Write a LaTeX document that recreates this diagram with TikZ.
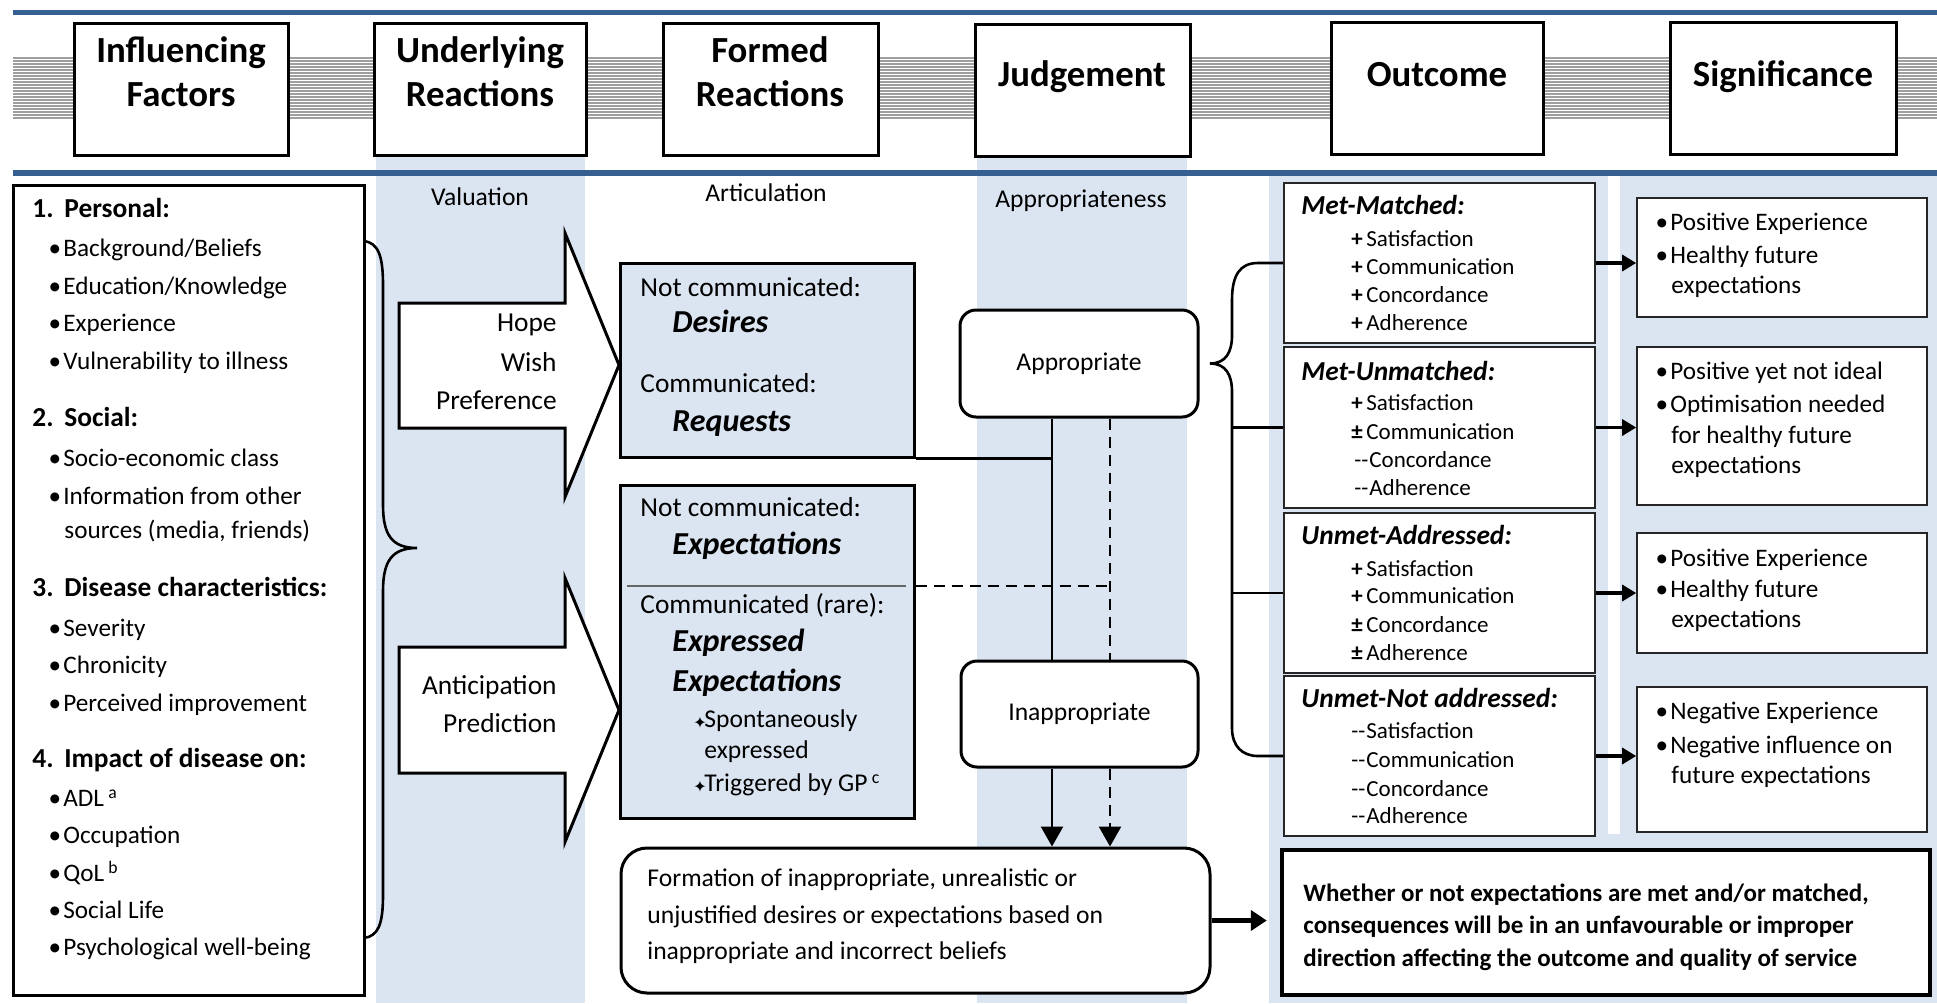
\documentclass[tikz,border=0pt]{standalone}
\usepackage{fontspec}
\setmainfont{Carlito}
\newfontfamily\dejavu{DejaVu Sans}
\usetikzlibrary{arrows.meta,calc}
\definecolor{band}{RGB}{219,229,241}
\definecolor{bline}{RGB}{54,96,146}
\newcommand\mybul{\makebox[8.5pt][c]{•}}
\newcommand\lnum[1]{\makebox[16pt][l]{#1}}
\newcommand\myitem[1]{\makebox[7.5pt][l]{#1}}
\newcommand\mystar{\makebox[5.5pt][l]{\raisebox{-0.5pt}{\dejavu\fontsize{8}{8}\selectfont ✦}}}
\begin{document}
\begin{tikzpicture}[x=0.5pt,y=-0.5pt,
  conn/.style={line width=1.3pt},
  dsh/.style={dash pattern=on 5.5pt off 3.5pt},
  arr/.style={conn,-{Triangle[width=11pt,length=10pt]}},
  sarr/.style={line width=1.6pt,-{Triangle[width=8pt,length=7pt]}},
  barr/.style={line width=2.2pt,-{Triangle[width=10pt,length=8pt]}},
  stripe/.style={draw=black!38,line width=0.7pt},
  hdrbox/.style={draw,fill=white,line width=1.5pt,minimum height=66pt,inner sep=0pt},
  thick box/.style={draw,line width=1.5pt,inner sep=0pt},
  thin box/.style={draw=black!85,fill=white,line width=0.8pt,inner sep=0pt},
  rbox/.style={draw,fill=white,line width=1.5pt,inner sep=0pt,rounded corners=8pt},
  lt/.style={anchor=mid west,inner sep=0pt},
  ct/.style={anchor=mid,inner sep=0pt},
  rt/.style={anchor=mid east,inner sep=0pt},
  fH/.style={font=\fontsize{18.4}{22}\selectfont\bfseries},
  fA/.style={font=\fontsize{13.7}{16}\selectfont\bfseries},
  fB/.style={font=\fontsize{12.6}{15}\selectfont},
  fL/.style={font=\fontsize{12.8}{15}\selectfont},
  fC/.style={font=\fontsize{13.7}{16}\selectfont},
  fD/.style={font=\fontsize{16}{19}\selectfont\bfseries\itshape},
  fT/.style={font=\fontsize{13.7}{16}\selectfont\bfseries\itshape},
  fI/.style={font=\fontsize{11.5}{14}\selectfont},
  fW/.style={font=\fontsize{12.5}{15}\selectfont\bfseries}
]
\useasboundingbox (0,0) rectangle (1937,1003);
% background bands
\fill[band] (376,156) rectangle (585,1003);
\fill[band] (977,155) rectangle (1187,1003);
\fill[band] (1269,176) rectangle (1937,1003);
\fill[white] (1608,176) rectangle (1620,834);
% stripes
\foreach \i in {0,...,20} \draw[stripe] (13,{58+3*\i}) -- (1937,{58+3*\i});
% blue rules
\draw[bline,line width=2.5pt] (13,12) -- (1937,12);
\draw[bline,line width=3pt] (13,173) -- (1937,173);
% header boxes
\node[hdrbox,minimum width=107pt] (h1) at (181,89) {};
\node[hdrbox,minimum width=106pt] (h2) at (480,89) {};
\node[hdrbox,minimum width=107.5pt] (h3) at (770.5,89) {};
\node[hdrbox,minimum width=107.5pt] (h4) at (1082.5,90) {};
\node[hdrbox,minimum width=106pt] (h5) at (1437,88) {};
\node[hdrbox,minimum width=113pt] (h6) at (1783,88) {};
\node[ct,fH] (h1a) at (181,58) {Influencing};
\node[ct,fH] (h1b) at (181,102) {Factors};
\node[ct,fH] (h2a) at (480,58) {Underlying};
\node[ct,fH] (h2b) at (480,102) {Reactions};
\node[ct,fH] (h3a) at (770,58) {Formed};
\node[ct,fH] (h3b) at (770,102) {Reactions};
\node[ct,fH] (h4a) at (1082,82) {Judgement};
\node[ct,fH] (h5a) at (1437,82) {Outcome};
\node[ct,fH] (h6a) at (1783,82) {Significance};
% band labels
\node[ct,fL] (bl1) at (480,201) {Valuation};
\node[ct,fL] (bl2) at (766,197) {Articulation};
\node[ct,fL] (bl3) at (1081,203) {Appropriateness};
% left box
\node[thick box,minimum width=175.5pt,minimum height=405pt] (lb) at (188.5,590) {};
\node[lt,fA] (p1) at (32,213) {\lnum{1.}Personal:};
\node[lt,fB] (p1a) at (46,252) {\mybul Background/Beliefs};
\node[lt,fB] (p1b) at (46,290) {\mybul Education/Knowledge};
\node[lt,fB] (p1c) at (46,327) {\mybul Experience};
\node[lt,fB] (p1d) at (46,365) {\mybul Vulnerability to illness};
\node[lt,fA] (p2) at (32,422) {\lnum{2.}Social:};
\node[lt,fB] (p2a) at (46,462) {\mybul Socio-economic class};
\node[lt,fB] (p2b) at (46,500) {\mybul Information from other};
\node[lt,fB] (p2c) at (64,534) {sources (media, friends)};
\node[lt,fA] (p3) at (32,592) {\lnum{3.}Disease characteristics:};
\node[lt,fB] (p3a) at (46,632) {\mybul Severity};
\node[lt,fB] (p3b) at (46,669) {\mybul Chronicity};
\node[lt,fB] (p3c) at (46,707) {\mybul Perceived improvement};
\node[lt,fA] (p4) at (32,763) {\lnum{4.}Impact of disease on:};
\node[lt,fB] (p4a) at (46,802) {\mybul ADL\,\textsuperscript{a}};
\node[lt,fB] (p4b) at (46,839) {\mybul Occupation};
\node[lt,fB] (p4c) at (46,877) {\mybul QoL\,\textsuperscript{b}};
\node[lt,fB] (p4d) at (46,914) {\mybul Social Life};
\node[lt,fB] (p4e) at (46,951) {\mybul Psychological well-being};
% left brace
\draw[conn] (364,241) .. controls (378,243) and (383,255) .. (383,285) -- (383,505)
  .. controls (383,535) and (392,548) .. (417,548)
  .. controls (392,548) and (383,561) .. (383,591) -- (383,895)
  .. controls (383,925) and (378,936) .. (364,938);
% block arrows
\draw[line width=1.5pt,fill=white,line join=miter] (399,303) -- (565,303) -- (565,233) -- (619,365) -- (565,497) -- (565,428) -- (399,428) -- cycle;
\draw[line width=1.5pt,fill=white,line join=miter] (399,647) -- (565,647) -- (565,578) -- (619,710) -- (565,842) -- (565,773) -- (399,773) -- cycle;
\node[rt,fC] (ha) at (557,327) {Hope};
\node[rt,fC] (hb) at (557,367) {Wish};
\node[rt,fC] (hc) at (557,405) {Preference};
\node[rt,fC] (aa) at (557,690) {Anticipation};
\node[rt,fC] (ab) at (557,728) {Prediction};
% formed reactions boxes
\node[thick box,fill=band,minimum width=147pt,minimum height=97pt] (d1) at (767,360) {};
\node[thick box,fill=band,minimum width=147pt,minimum height=166.5pt] (d2) at (767,651.5) {};
\coordinate (dvl) at (627,586);
\coordinate (dvr) at (906,586);
\draw[draw=black!60,line width=0.8pt] (dvl) -- (dvr);
\node[lt,fC] (d1a) at (640,292) {Not communicated:};
\node[lt,fD] (d1b) at (672,328) {Desires};
\node[lt,fC] (d1c) at (640,388) {Communicated:};
\node[lt,fD] (d1d) at (672,427) {Requests};
\node[lt,fC] (d2a) at (640,512) {Not communicated:};
\node[lt,fD] (d2b) at (672,550) {Expectations};
\node[lt,fC] (d2c) at (640,609) {Communicated (rare):};
\node[lt,fD] (d2d) at (672,647) {Expressed};
\node[lt,fD] (d2e) at (672,687) {Expectations};
\node[lt,fL] (d2f) at (693,723) {\mystar Spontaneously};
\node[lt,fL] (d2g) at (704,754) {expressed};
\node[lt,fL] (d2h) at (693,787) {\mystar Triggered by GP\,\textsuperscript{c}};
% judgement boxes
\node[rbox,minimum width=119pt,minimum height=53.5pt,fL] (ap) at (1079,363.5) {Appropriate};
\node[rbox,minimum width=118.5pt,minimum height=53pt,fL] (ip) at (1079.5,714) {Inappropriate};
\coordinate (sa) at ($(ap.south)+(-27,0)$);
\coordinate (da) at ($(ap.south)+(31,0)$);
\coordinate (sb) at ($(ip.north)+(-27.5,0)$);
\coordinate (db) at ($(ip.north)+(30.5,0)$);
\coordinate (sc) at ($(ip.south)+(-27.5,0)$);
\coordinate (dc) at ($(ip.south)+(30.5,0)$);
% formation and whether boxes
\node[draw,fill=white,line width=1.5pt,rounded corners=13pt,minimum width=294.5pt,minimum height=72.5pt,inner sep=0pt] (fm) at (915.5,920.5) {};
\node[lt,fL] (fma) at (647,882) {Formation of inappropriate, unrealistic or};
\node[lt,fL] (fmb) at (647,919) {unjustified desires or expectations based on};
\node[lt,fL] (fmc) at (647,955) {inappropriate and incorrect beliefs};
\node[draw,fill=white,line width=2.2pt,minimum width=324pt,minimum height=72.5pt,inner sep=0pt] (wb) at (1606,922.5) {};
\node[lt,fW] (wba) at (1303,897) {Whether or not expectations are met and/or matched,};
\node[lt,fW] (wbb) at (1303,929) {consequences will be in an unfavourable or improper};
\node[lt,fW] (wbc) at (1303,962) {direction affecting the outcome and quality of service};
% connectors in judgement column
\draw[conn] (sa) -- (sb);
\draw[conn,dsh] (da) -- (db);
\draw[conn] (d1.south east) -- (d1.south east -| sa);
\draw[conn,dsh] (dvr -| d2.east) -- (dvr -| da);
\draw[arr] (sc) -- (sc |- fm.north);
\draw[arr,dsh] (dc) -- (dc |- fm.north);
\draw[barr] (fm.east) -- ($(fm.east -| wb.west)+(-13,0)$);
% outcome boxes
\node[thin box,minimum width=155.5pt,minimum height=80pt] (o1) at (1439.5,263) {};
\node[thin box,minimum width=155.5pt,minimum height=80.5pt] (o2) at (1439.5,427.5) {};
\node[thin box,minimum width=155.5pt,minimum height=80pt] (o3) at (1439.5,593) {};
\node[thin box,minimum width=155.5pt,minimum height=80pt] (o4) at (1439.5,756) {};
\node[lt,fT] (o1t) at (1301,210) {Met-Matched:};
\node[lt,fI] (o1a) at (1351,242) {\myitem{\textbf{+}}Satisfaction};
\node[lt,fI] (o1b) at (1351,270) {\myitem{\textbf{+}}Communication};
\node[lt,fI] (o1c) at (1351,298) {\myitem{\textbf{+}}Concordance};
\node[lt,fI] (o1d) at (1351,326) {\myitem{\textbf{+}}Adherence};
\node[lt,fT] (o2t) at (1301,376) {Met-Unmatched:};
\node[lt,fI] (o2a) at (1351,406) {\myitem{\textbf{+}}Satisfaction};
\node[lt,fI] (o2b) at (1351,435) {\myitem{\textbf{±}}Communication};
\node[lt,fI] (o2c) at (1354,463) {\myitem{-{}-}Concordance};
\node[lt,fI] (o2d) at (1354,491) {\myitem{-{}-}Adherence};
\node[lt,fT] (o3t) at (1301,540) {Unmet-Addressed:};
\node[lt,fI] (o3a) at (1351,572) {\myitem{\textbf{+}}Satisfaction};
\node[lt,fI] (o3b) at (1351,599) {\myitem{\textbf{+}}Communication};
\node[lt,fI] (o3c) at (1351,628) {\myitem{\textbf{±}}Concordance};
\node[lt,fI] (o3d) at (1351,656) {\myitem{\textbf{±}}Adherence};
\node[lt,fT] (o4t) at (1301,703) {Unmet-Not addressed:};
\node[lt,fI] (o4a) at (1351,734) {\myitem{-{}-}Satisfaction};
\node[lt,fI] (o4b) at (1351,763) {\myitem{-{}-}Communication};
\node[lt,fI] (o4c) at (1351,792) {\myitem{-{}-}Concordance};
\node[lt,fI] (o4d) at (1351,819) {\myitem{-{}-}Adherence};
% significance boxes
\node[thin box,minimum width=145pt,minimum height=59.5pt] (s1) at (1782,257.5) {};
\node[thin box,minimum width=145pt,minimum height=79pt] (s2) at (1782,426) {};
\node[thin box,minimum width=145pt,minimum height=60pt] (s3) at (1782,593) {};
\node[thin box,minimum width=145pt,minimum height=72.5pt] (s4) at (1782,759.5) {};
\node[lt,fB] (s1a) at (1653,226) {\mybul Positive Experience};
\node[lt,fB] (s1b) at (1653,259) {\mybul Healthy future};
\node[lt,fB] (s1c) at (1671,289) {expectations};
\node[lt,fB] (s2a) at (1653,375) {\mybul Positive yet not ideal};
\node[lt,fB] (s2b) at (1653,408) {\mybul Optimisation needed};
\node[lt,fB] (s2c) at (1671,439) {for healthy future};
\node[lt,fB] (s2d) at (1671,469) {expectations};
\node[lt,fB] (s3a) at (1653,562) {\mybul Positive Experience};
\node[lt,fB] (s3b) at (1653,593) {\mybul Healthy future};
\node[lt,fB] (s3c) at (1671,623) {expectations};
\node[lt,fB] (s4a) at (1653,715) {\mybul Negative Experience};
\node[lt,fB] (s4b) at (1653,749) {\mybul Negative influence on};
\node[lt,fB] (s4c) at (1671,779) {future expectations};
% outcome -> significance arrows
\draw[sarr] (o1.east) -- (o1.east -| s1.west);
\draw[sarr] (o2.east) -- (o2.east -| s2.west);
\draw[sarr] (o3.east) -- (o3.east -| s3.west);
\draw[sarr] (o4.east) -- (o4.east -| s4.west);
% right brace from Appropriate to outcomes
\coordinate (brc) at (1232,0);
\draw[conn] (o1.west) -- (1258,263) .. controls (1240,263) and (1232,275) .. (1232,300) -- (1232,335)
  .. controls (1232,352) and (1226,363.5) .. (1210,363.5)
  .. controls (1226,363.5) and (1232,375) .. (1232,392) -- (1232,728)
  .. controls (1232,746) and (1242,756) .. (1258,756) -- (o4.west);
\draw[conn] (o2.west -| brc) -- (o2.west);
\draw[conn] (o3.west -| brc) -- (o3.west);
\end{tikzpicture}
\end{document}
